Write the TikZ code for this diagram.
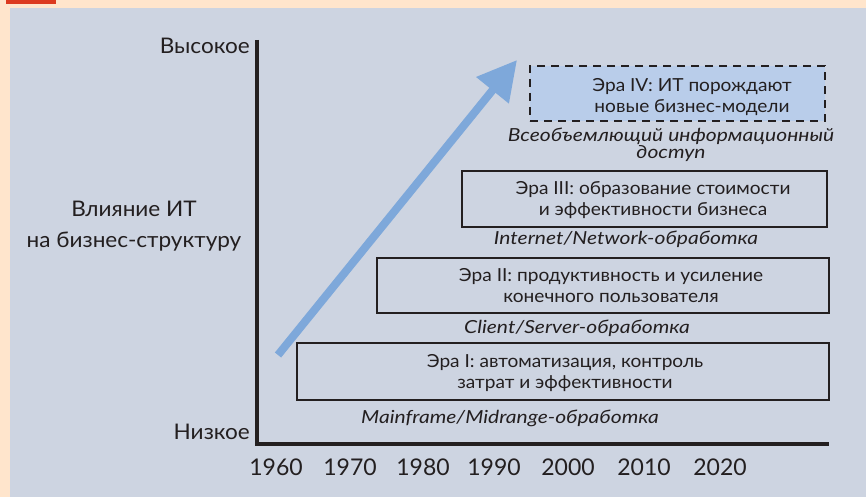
\documentclass[tikz,border=0pt]{standalone}
\usepackage{fontspec}
\setmainfont{Lato}
\newfontfamily\erafont[FakeStretch=1.06]{Lato}
\newfontfamily\techfont[FakeStretch=1.17]{Lato}
\newfontfamily\axisfont[FakeStretch=1.05]{Lato}
\usetikzlibrary{arrows.meta}
\definecolor{peach}{RGB}{255,229,204}
\definecolor{panel}{RGB}{205,212,225}
\definecolor{redbar}{RGB}{220,57,30}
\definecolor{erafour}{RGB}{185,205,234}
\definecolor{arrowblue}{RGB}{126,168,218}
\definecolor{ink}{RGB}{35,31,32}
\tikzset{
  erabox/.style={draw=ink, line width=2pt, inner sep=0pt},
  eratext/.style={text=ink, align=center, inner sep=0pt, font=\erafont\fontsize{18}{21}\selectfont},
  techtext/.style={text=ink, align=center, inner sep=0pt, font=\techfont\fontsize{18}{17}\selectfont\itshape},
  axislabel/.style={text=ink, inner sep=0pt, font=\axisfont\fontsize{21.5}{31}\selectfont},
  yearlabel/.style={text=ink, inner sep=0pt, font=\fontsize{23}{24}\selectfont},
  axisline/.style={draw=ink, line width=4pt}
}
\begin{document}
\begin{tikzpicture}[x=1pt,y=-1pt]
\useasboundingbox (0,0) rectangle (866,497);
\fill[peach] (0,0) rectangle (866,497);
\fill[redbar] (6,0) rectangle (56,4.5);
\fill[panel] (10,8) rectangle (866,497);

% axes
\coordinate (ytop) at (257,40);
\coordinate (orig) at (257,444);
\coordinate (xend) at (829,444);
\draw[axisline] (ytop) -- (orig) -- (xend);

\node[axislabel, anchor=east] (high) at (250,46) {Высокое};
\node[axislabel, anchor=east] (low) at (250,432) {Низкое};
\node[axislabel, align=center, anchor=center] (impact) at (134,226) {Влияние ИТ\\на бизнес-структуру};

\foreach \yr/\xx in {1960/276,1970/350,1980/423,1990/494,2000/568,2010/644,2020/720}
  \node[yearlabel] (y\yr) at (\xx,467) {\yr};

% boxes
\node[erabox, minimum width=532pt, minimum height=57pt] (boxI) at (563,371.5) {};
\node[eratext] (txtI) at (565,373) {Эра I: автоматизация, контроль\\затрат и эффективности};
\node[techtext] (techI) at (510,418) {Mainframe/Midrange-обработка};

\node[erabox, minimum width=452pt, minimum height=55pt] (boxII) at (603,285.5) {};
\node[eratext] (txtII) at (611,286) {Эра II: продуктивность и усиление\\конечного пользователя};
\node[techtext] (techII) at (577,328) {Client/Server-обработка};

\node[erabox, minimum width=365pt, minimum height=56pt] (boxIII) at (644.5,199) {};
\node[eratext] (txtIII) at (653,200) {Эра III: образование стоимости\\и эффективности бизнеса};
\node[techtext] (techIII) at (626,239) {Internet/Network-обработка};

\node[erabox, fill=erafour, dash pattern=on 8pt off 6pt, line width=2.5pt, minimum width=295pt, minimum height=55pt] (boxIV) at (677.5,93.5) {};
\node[eratext] (txtIV) at (692,97) {Эра IV: ИТ порождают\\новые бизнес-модели};
\node[techtext] (techIV) at (671,145) {Всеобъемлющий информационный\\доступ};

% arrow
\coordinate (arrstart) at (278,355);
\coordinate (arrtip) at (517,60);
\draw[arrowblue, line width=8pt, -{Triangle[length=39pt,width=40pt]}] (arrstart) -- (arrtip);
\end{tikzpicture}
\end{document}
